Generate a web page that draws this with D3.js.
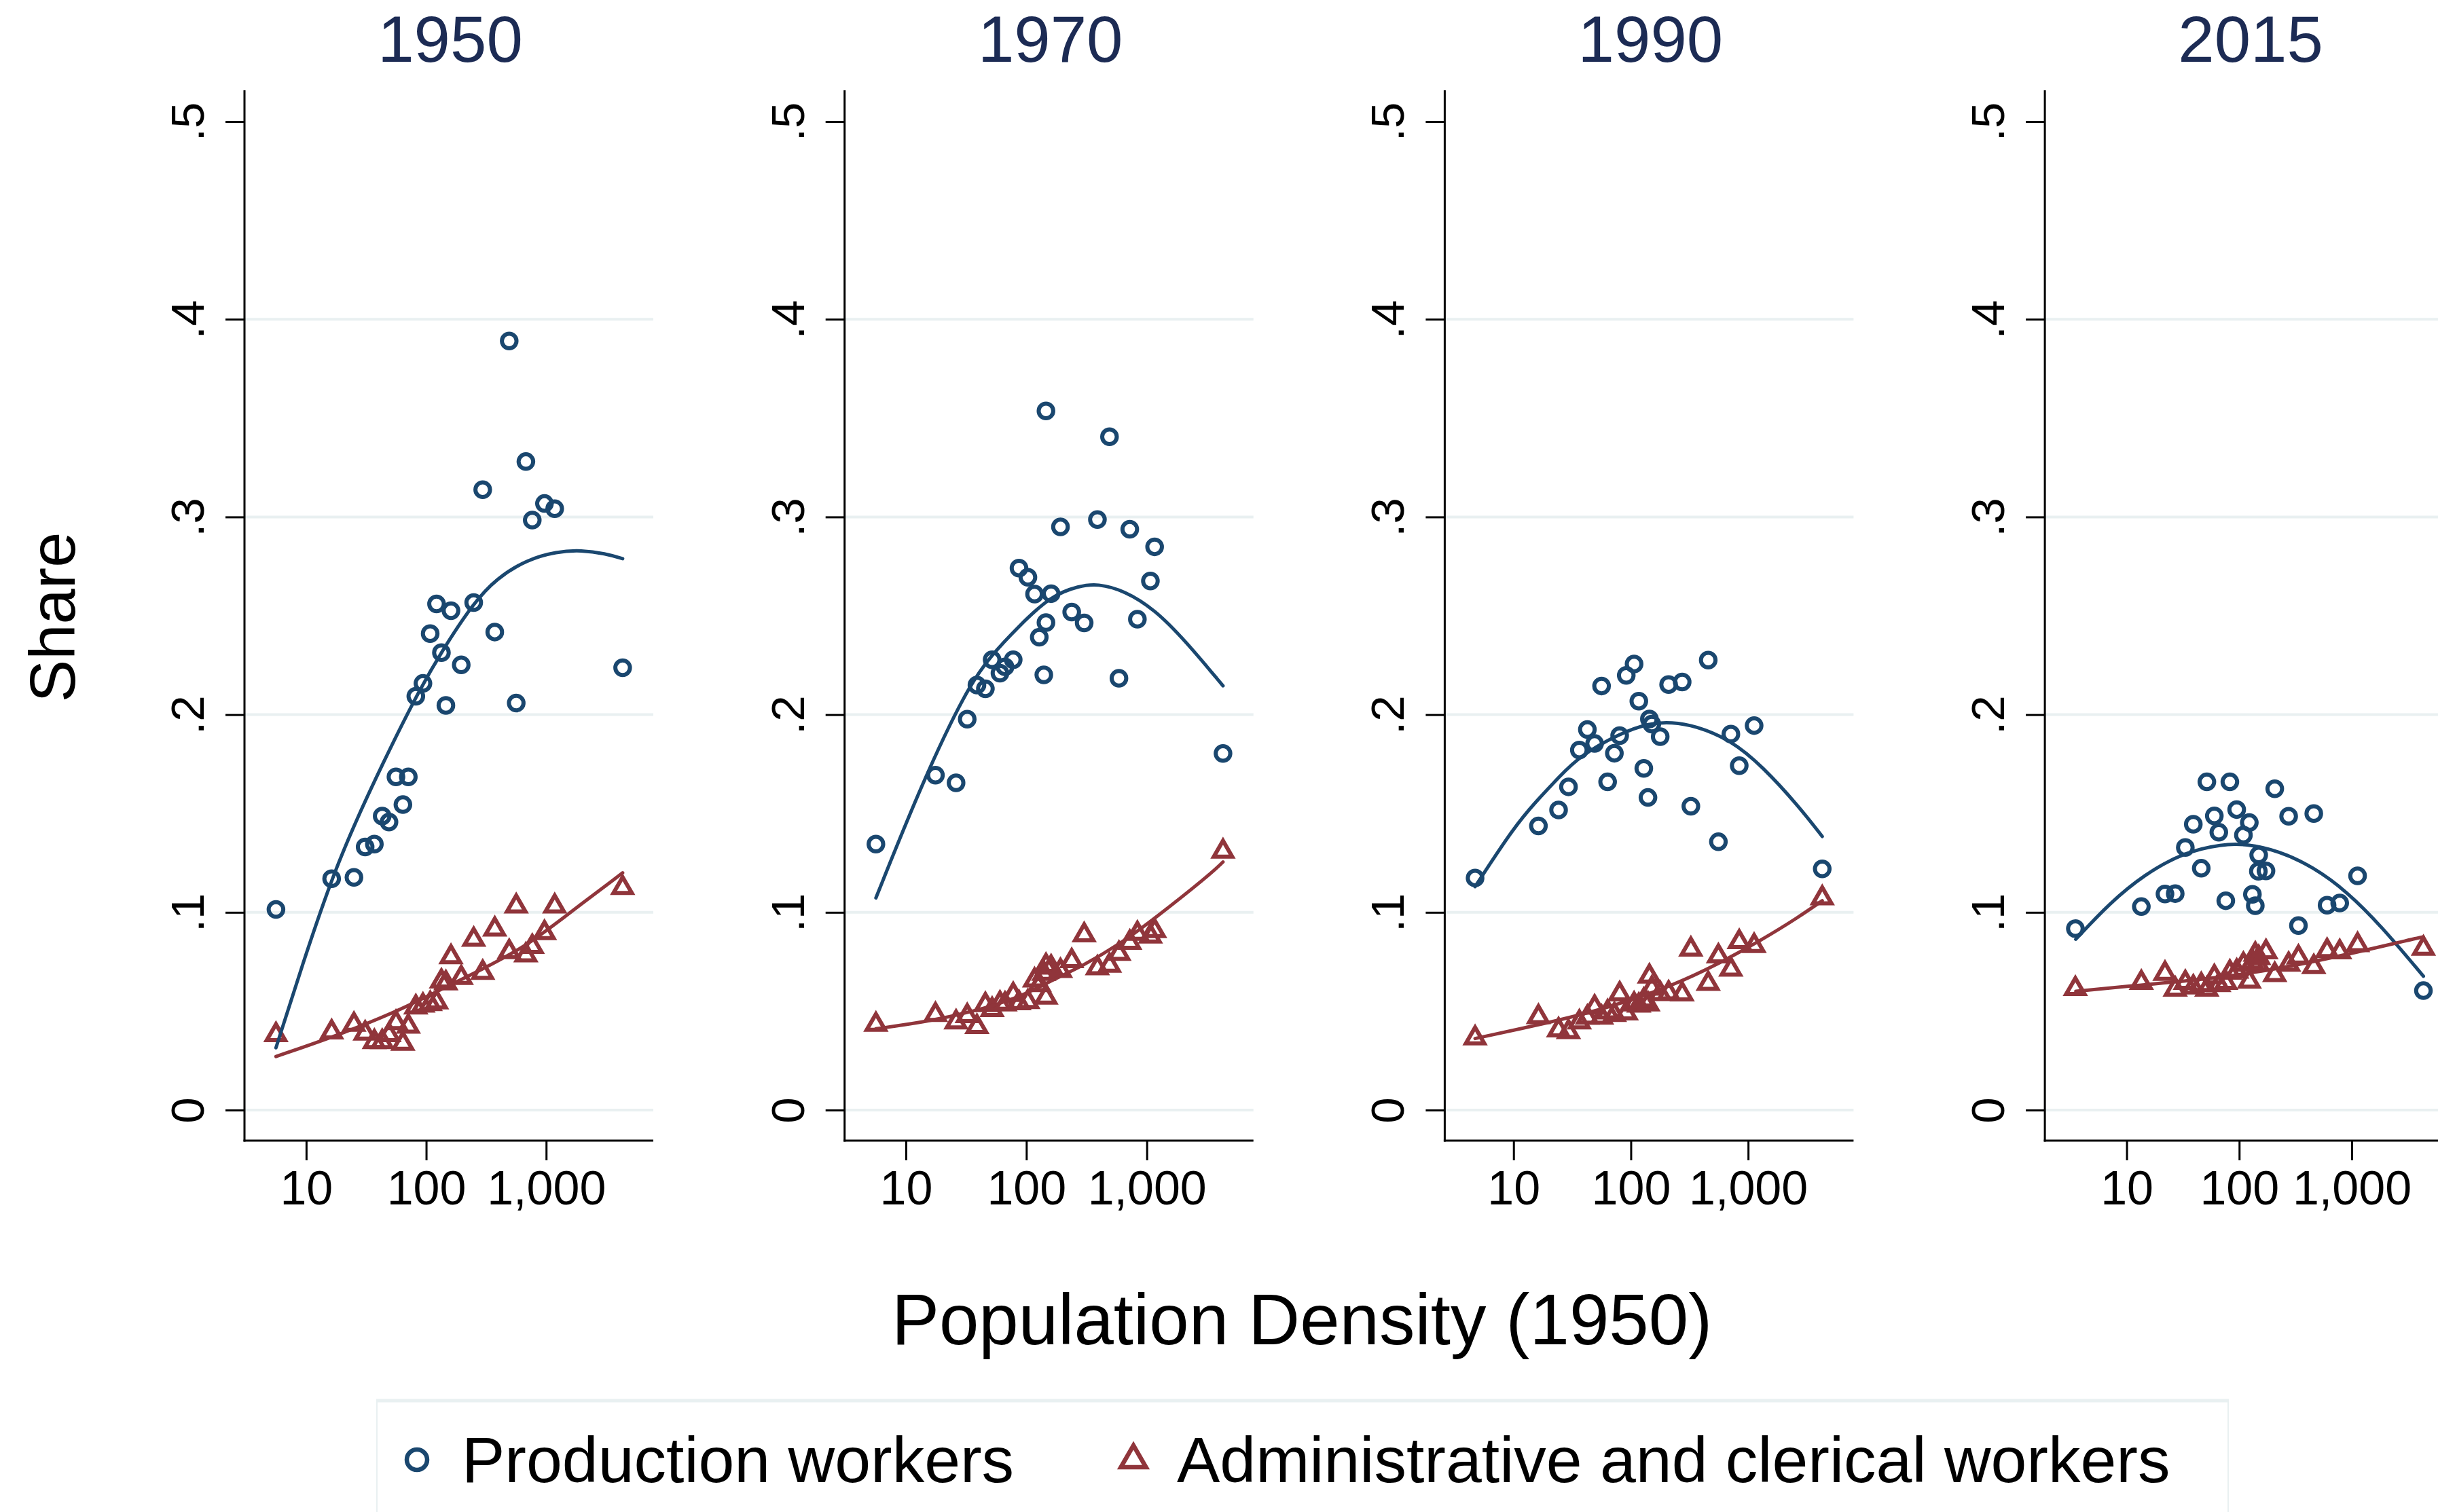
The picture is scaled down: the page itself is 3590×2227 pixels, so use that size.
<!DOCTYPE html>
<html>
<head>
<meta charset="utf-8">
<script src="https://cdn.jsdelivr.net/npm/d3@7"></script>
<style>
  body { margin: 0; background: #ffffff; }
  svg { display: block; font-family: "Liberation Sans", Arial, Helvetica, sans-serif; }
</style>
</head>
<body>
<svg id="chart" width="3590" height="2227"></svg>
<script>
// ---- Data: share of employment by city population density (1950) ----
const years = ["1950", "1970", "1990", "2015"];
const seriesNames = ["Production workers", "Administrative and clerical workers"];

const density1950 = [5.6, 16.3, 25, 31, 37, 43, 49, 56, 64, 71, 82, 94, 108, 122, 134, 146, 161, 196, 249, 296, 373, 492, 563, 678, 766, 968, 1178, 4340];
const production1950 = [.1015, .117, .1177, .1331, .1345, .1487, .1457, .1685, .1545, .1685, .2093, .2158, .241, .256, .2314, .2047, .2526, .2252, .2567, .3138, .2418, .389, .2059, .328, .2984, .3068, .3042, .2237];
const admin1950 = [.0394, .0408, .0446, .0402, .0359, .0359, .0394, .0455, .035, .0437, .0534, .0543, .0551, .056, .0665, .0656, .0788, .0683, .0876, .0709, .0928, .0814, .1045, .0797, .084, .091, .1045, .1138];

const density1970 = [5.64, 17.6, 26.1, 32.3, 38.9, 45.7, 52, 60.4, 66.5, 77.8, 86.9, 103, 117, 128, 139.6, 145.5, 145.5, 160.5, 192, 238, 302, 389, 490, 587, 722, 835, 1071, 1161, 4290];
const production1970 = [.1345, .1694, .1655, .1977, .215, .2131, .2278, .221, .2242, .2278, .2741, .2695, .261, .2392, .2201, .3536, .2466, .2612, .295, .2519, .2464, .2987, .3406, .2184, .2938, .2483, .2676, .2849, .1804];
const admin1970 = [.0446, .0496, .0458, .049, .0435, .0546, .0521, .0553, .0549, .0597, .0555, .0561, .067, .0647, .0704, .0744, .0584, .0736, .0718, .0768, .0899, .0732, .0745, .0805, .0861, .0906, .0893, .092, .1322];

const density1990 = [4.7, 16.3, 24.2, 29.4, 36.4, 42.6, 49.1, 56.3, 63.4, 72.4, 80.3, 91.4, 106.6, 117, 129, 140, 144, 151, 178, 210, 274, 325, 457, 558, 713, 840, 1125, 4285];
const production1990 = [.1174, .1437, .1518, .1635, .1821, .1925, .1854, .2145, .166, .1805, .1894, .2199, .2256, .2068, .1728, .1581, .1978, .1952, .1889, .2152, .2165, .1537, .2276, .1357, .1902, .1742, .1945, .122];
const admin1990 = [.0378, .0485, .0418, .0409, .0458, .0482, .0533, .0482, .0509, .0496, .06, .0504, .0549, .0543, .0569, .0549, .069, .0629, .0602, .0605, .06, .0827, .0653, .0792, .0725, .0864, .0845, .1086];

const density2015 = [3.5, 13.5, 21.9, 27, 33.2, 39.1, 46, 51.6, 60.1, 65.9, 76, 82.6, 95, 109, 123, 131, 139, 148, 149, 173, 207, 275, 336, 460, 604, 782, 1127, 4335];
const production2015 = [.0918, .1029, .1093, .1095, .1328, .1446, .1223, .166, .1488, .1405, .1059, .166, .152, .1391, .1454, .1091, .1034, .1208, .129, .121, .1625, .1486, .0933, .15, .1036, .1047, .1185, .0604];
const admin2015 = [.0627, .0658, .0704, .0624, .0658, .0635, .0647, .0624, .0687, .0647, .0658, .071, .0715, .075, .0664, .0761, .0801, .075, .0784, .0813, .0698, .075, .0786, .0738, .0819, .0813, .0849, .0831];

// Quadratic fitted values [density, share] along each fit curve
const productionFit1950 = [[5.6, .0315], [9.38, .0744], [16.3, .117], [25.2, .1445], [42.5, .1742], [82.2, .2093], [133, .2315], [249, .2567], [385, .2688], [689, .2784], [1230, .2825], [1963, .2832], [3119, .2815], [4340, .2789]];
const adminFit1950 = [[5.6, .0271], [16.3, .0367], [53.6, .049], [135.5, .0613], [288, .0709], [689, .0831], [1384, .0972], [4340, .12]];
const productionFit1970 = [[5.64, .1073], [13.6, .1655], [32.4, .2137], [51.4, .2302], [86.5, .2447], [160.7, .2603], [275, .2651], [389, .2663], [655, .2627], [1167, .2531], [2080, .2375], [4290, .2146]];
const adminFit1970 = [[5.64, .0411], [14.7, .0446], [36.3, .0498], [86.3, .0567], [172, .0664], [289, .0727], [603, .0841], [1151, .0967], [3251, .1185], [4290, .1255]];
const productionFit1990 = [[4.7, .113], [10.07, .1431], [15.7, .1564], [24.4, .1684], [36.5, .179], [80.4, .1905], [144, .1958], [224, .1962], [351, .1945], [713, .1872], [1327, .1738], [2698, .1537], [4285, .1384]];
const adminFit1990 = [[4.7, .0362], [15.7, .0429], [38.1, .0482], [92.5, .0549], [224, .0629], [546, .0736], [1327, .0863], [2698, .0976], [4285, .1059]];
const productionFit2015 = [[3.53, .0864], [7.06, .1047], [14.2, .119], [32.5, .1305], [71.3, .1345], [113, .1347], [226, .1311], [454, .123], [908, .1105], [1816, .0933], [4335, .0677]];
const adminFit2015 = [[3.53, .0601], [11.2, .0629], [44.9, .0658], [180, .0704], [719, .0773], [3802, .087], [4335, .0876]];

// Axis ranges and ticks
const xDomains = [[3.06, 7816], [3.10, 7674], [2.59, 7925], [1.875, 8054]];
const yDomain = [-0.01545, 0.5158];
const yTicks = [0, .1, .2, .3, .4, .5];
const yTickLabels = ["0", ".1", ".2", ".3", ".4", ".5"];
const gridValues = [0, .1, .2, .3, .4];
const xTicks = [10, 100, 1000];
const xTickLabels = ["10", "100", "1,000"];

const panels = [
  { year: years[0], density: density1950, production: production1950, admin: admin1950, prodFit: productionFit1950, adminFit: adminFit1950 },
  { year: years[1], density: density1970, production: production1970, admin: admin1970, prodFit: productionFit1970, adminFit: adminFit1970 },
  { year: years[2], density: density1990, production: production1990, admin: admin1990, prodFit: productionFit1990, adminFit: adminFit1990 },
  { year: years[3], density: density2015, production: production2015, admin: admin2015, prodFit: productionFit2015, adminFit: adminFit2015 }
];

// ---- Styling ----
const NAVY = "#1a476f", MAROON = "#90353b", GRID = "#e9f0f1", TITLE = "#1c2b54";
const plotTop = 133, plotBottom = 1680, plotWidth = 602;
const firstAxisX = 360, panelStep = 883.7;
const markerStroke = 6;

function triangle(side) {
  const h = side * Math.sqrt(3) / 2;
  return `M0,${-h / 2}L${side / 2},${h / 2}L${-side / 2},${h / 2}Z`;
}
const plotTriangle = triangle(27), legendTriangle = triangle(37);

const svg = d3.select("#chart");
svg.append("rect").attr("width", 3590).attr("height", 2227).attr("fill", "#fff");

const y = d3.scaleLinear().domain(yDomain).range([plotBottom, plotTop]);

panels.forEach((p, i) => {
  const ax = firstAxisX + i * panelStep;
  const x = d3.scaleLog().domain(xDomains[i]).range([ax, ax + plotWidth]);
  const g = svg.append("g");

  // gridlines
  g.selectAll(".grid").data(gridValues).join("line")
    .attr("x1", ax).attr("x2", ax + plotWidth)
    .attr("y1", d => y(d)).attr("y2", d => y(d))
    .attr("stroke", GRID).attr("stroke-width", 4);

  // panel title
  g.append("text").attr("x", ax + 303).attr("y", 91)
    .attr("text-anchor", "middle").attr("fill", TITLE)
    .style("font-size", "96px").text(p.year);

  // y axis
  const gy = g.append("g").attr("transform", `translate(${ax},0)`)
    .call(d3.axisLeft(y).tickValues(yTicks).tickSize(28).tickFormat((d, k) => yTickLabels[k]));
  gy.select(".domain").remove();
  gy.selectAll(".tick line").attr("stroke", "#000").attr("stroke-width", 3);
  gy.selectAll(".tick text")
    .attr("x", null).attr("dy", null)
    .attr("transform", "translate(-60,0) rotate(-90)")
    .attr("text-anchor", "middle").attr("fill", "#000")
    .style("font-size", "69px").style("font-family", "inherit");

  // x axis
  const gx = g.append("g").attr("transform", `translate(0,${plotBottom})`)
    .call(d3.axisBottom(x).tickValues(xTicks).tickSize(29).tickFormat((d, k) => xTickLabels[k]));
  gx.select(".domain").remove();
  gx.selectAll(".tick line").attr("stroke", "#000").attr("stroke-width", 3);
  gx.selectAll(".tick text")
    .attr("y", 94).attr("dy", null).attr("fill", "#000")
    .style("font-size", "70px").style("font-family", "inherit");

  // axis lines
  g.append("line").attr("x1", ax).attr("x2", ax).attr("y1", plotTop).attr("y2", plotBottom + 1.5)
    .attr("stroke", "#000").attr("stroke-width", 3);
  g.append("line").attr("x1", ax - 1.5).attr("x2", ax + plotWidth).attr("y1", plotBottom).attr("y2", plotBottom)
    .attr("stroke", "#000").attr("stroke-width", 3);

  // production workers (hollow circles)
  g.append("g").selectAll("circle").data(p.density.map((d, k) => [d, p.production[k]])).join("circle")
    .attr("cx", d => x(d[0])).attr("cy", d => y(d[1])).attr("r", 10.75)
    .attr("fill", "none").attr("stroke", NAVY).attr("stroke-width", markerStroke);

  // administrative and clerical workers (hollow triangles)
  g.append("g").selectAll("path").data(p.density.map((d, k) => [d, p.admin[k]])).join("path")
    .attr("d", plotTriangle)
    .attr("transform", d => `translate(${x(d[0])},${y(d[1])})`)
    .attr("fill", "none").attr("stroke", MAROON).attr("stroke-width", markerStroke)
    .attr("stroke-linejoin", "miter");

  // quadratic fit curves
  const line = d3.line().x(d => x(d[0])).y(d => y(d[1])).curve(d3.curveBasis);
  g.append("path").attr("d", line(p.prodFit))
    .attr("fill", "none").attr("stroke", NAVY).attr("stroke-width", 5).attr("stroke-linecap", "round");
  g.append("path").attr("d", line(p.adminFit))
    .attr("fill", "none").attr("stroke", MAROON).attr("stroke-width", 5).attr("stroke-linecap", "round");
});

// shared axis titles
svg.append("text").attr("transform", "translate(110,909) rotate(-90)")
  .attr("text-anchor", "middle").style("font-size", "94px").attr("fill", "#000").text("Share");
svg.append("text").attr("x", 1917).attr("y", 1980)
  .attr("text-anchor", "middle").style("font-size", "105px").attr("fill", "#000")
  .text("Population Density (1950)");

// legend
const legend = svg.append("g");
legend.append("rect").attr("x", 555).attr("y", 2062).attr("width", 2726).attr("height", 300)
  .attr("fill", "#fff").attr("stroke", GRID).attr("stroke-width", 2);
legend.append("line").attr("x1", 554).attr("x2", 3282).attr("y1", 2063).attr("y2", 2063)
  .attr("stroke", GRID).attr("stroke-width", 5);
legend.append("circle").attr("cx", 614).attr("cy", 2150).attr("r", 15)
  .attr("fill", "none").attr("stroke", NAVY).attr("stroke-width", 6.5);
legend.append("text").attr("x", 680).attr("y", 2183).style("font-size", "95px").attr("fill", "#000")
  .text(seriesNames[0]);
legend.append("path").attr("d", legendTriangle).attr("transform", "translate(1669,2145)")
  .attr("fill", "none").attr("stroke", MAROON).attr("stroke-width", 6.5);
legend.append("text").attr("x", 1733).attr("y", 2183).style("font-size", "95px").attr("fill", "#000")
  .text(seriesNames[1]);
</script>
</body>
</html>
